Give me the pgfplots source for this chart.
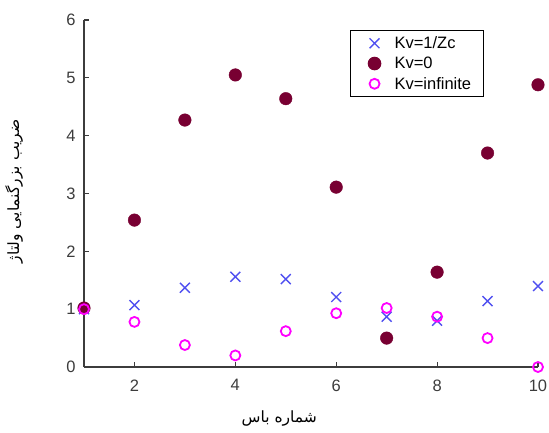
\documentclass[border=0pt]{standalone}
\usepackage{fontspec}
\usepackage{pgfplots}
\pgfplotsset{compat=1.18}
\setmainfont{Liberation Sans}
\newfontfamily\arabicfont[Script=Arabic]{DejaVu Sans}
\TeXXeTstate=1
\definecolor{kvblue}{RGB}{80,80,240}
\definecolor{kvdark}{RGB}{120,0,50}
\definecolor{kvmag}{RGB}{255,0,255}
\definecolor{axgray}{RGB}{60,60,60}
\begin{document}
\begin{tikzpicture}
\useasboundingbox (-84pt,-65pt) rectangle (465pt,367pt);
\begin{axis}[
  at={(0pt,0pt)}, anchor=south west,
  scale only axis, width=454pt, height=347pt,
  xmin=1, xmax=10, ymin=0, ymax=6,
  axis x line*=bottom, axis y line*=left,
  axis line style={axgray, line width=1.5pt},
  xtick={2,4,6,8,10}, ytick={0,1,2,3,4,5,6},
  tick align=inside, major tick length=5pt,
  tick style={axgray, line width=1.2pt},
  ticklabel style={font=\fontsize{16.5}{18}\selectfont, text=axgray},
  xticklabel style={yshift=-9pt},
  yticklabel style={xshift=-5pt},
  /pgf/number format/assume math mode=true,
  clip=false,
  xlabel={\arabicfont\beginR شماره باس\endR},
  ylabel={\arabicfont\beginR ضریب بزرگنمایی ولتاژ\endR},
  label style={font=\fontsize{15.5}{17}\selectfont},
  xlabel style={at={([yshift=-51pt]axis description cs:0.43,0)}, anchor=center},
  ylabel style={at={([xshift=-70pt]axis description cs:0,0.506)}, anchor=center},
  legend style={at={(0.586,0.971)}, anchor=north west, draw=black, line width=1pt,
    font=\fontsize{16.5}{18}\selectfont, row sep=3pt, inner xsep=10pt, inner ysep=4pt},
  legend cell align=left,
  legend image code/.code={\path[draw=none,fill=none] (0pt,-2pt) rectangle (32pt,2pt);
    \draw[#1] plot coordinates {(14pt,0pt)};},
]
\addplot[only marks, mark=x, mark size=7pt, kvblue, line width=1.4pt] coordinates {
  (1,1.00) (2,1.07) (3,1.37) (4,1.56) (5,1.52) (6,1.21) (7,0.87) (8,0.80) (9,1.14) (10,1.40)};
\addlegendentry{Kv=1/Zc}
\addplot[only marks, mark=*, mark size=6.3pt, draw=kvdark, fill=kvdark] coordinates {
  (1,1.02) (2,2.54) (3,4.27) (4,5.05) (5,4.64) (6,3.11) (7,0.50) (8,1.64) (9,3.70) (10,4.88)};
\addlegendentry{Kv=0}
\addplot[only marks, mark=o, mark size=5pt, kvmag, line width=1.8pt] coordinates {
  (1,1.00) (2,0.78) (3,0.38) (4,0.20) (5,0.62) (6,0.93) (7,1.02) (8,0.87) (9,0.50) (10,0.00)};
\addlegendentry{Kv=infinite}
\end{axis}
\end{tikzpicture}
\end{document}
